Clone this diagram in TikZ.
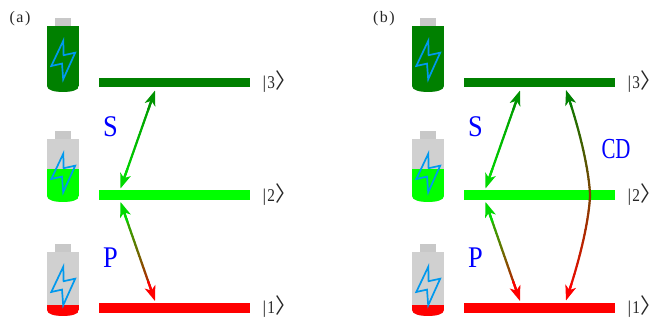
\documentclass[tikz,border=0pt]{standalone}
\usepackage{fontspec}
\setmainfont{Liberation Serif}
\newfontfamily\cjkf{Noto Sans CJK SC}
\usetikzlibrary{calc,arrows.meta}
\definecolor{lvlthree}{RGB}{0,128,0}
\definecolor{lvltwo}{RGB}{0,255,0}
\definecolor{lvlone}{RGB}{255,0,0}
\definecolor{batgray}{RGB}{208,208,208}
\definecolor{capgray}{RGB}{200,200,200}
\definecolor{boltblue}{RGB}{0,153,238}
\definecolor{labelblue}{RGB}{0,0,255}
\tikzset{
  levelbar/.style={draw=none,inner sep=0pt,minimum width=151pt,minimum height=9.6pt},
  ketlabel/.style={font=\fontsize{18}{18}\selectfont,text=black!85,inner sep=0pt,anchor=west},
  panellabel/.style={font=\fontsize{16}{16}\selectfont,text=black!85,inner sep=0pt},
  couplabel/.style={text=labelblue,inner sep=0pt},
  gradseg/.style={line width=2.2pt,line cap=round},
  headtip/.style={-{Stealth[length=15pt,width=11pt,inset=4pt]},line width=2.2pt},
  boltline/.style={draw=boltblue,line width=1.7pt,line join=miter}
}
\newcommand{\gradarrow}[4]{%
  \foreach \i in {5,...,55}{%
    \pgfmathsetmacro\sa{\i/60}\pgfmathsetmacro\sb{(\i+1)/60}\pgfmathsetmacro\pc{100*\sa}%
    \draw[gradseg,draw={#4!\pc!#3}] ($(#1)!\sa!(#2)$) -- ($(#1)!\sb!(#2)$);
  }
  \draw[headtip,draw=#3,fill=#3] ($(#1)!0.2!(#2)$) -- (#1);
  \draw[headtip,draw=#4,fill=#4] ($(#2)!0.2!(#1)$) -- (#2);
}
\newcommand{\bulgeof}[1]{24*(1-abs(2*#1-1)^1.5)}
\newcommand{\gradcurve}[4]{%
  \foreach \i in {5,...,75}{%
    \pgfmathsetmacro\sa{\i/80}\pgfmathsetmacro\sb{(\i+1)/80}\pgfmathsetmacro\pc{100*\sa}%
    \pgfmathsetmacro\ba{\bulgeof{\sa}}\pgfmathsetmacro\bb{\bulgeof{\sb}}%
    \draw[gradseg,draw={#4!\pc!#3}] ($(#1)!\sa!(#2)+(\ba,0)$) -- ($(#1)!\sb!(#2)+(\bb,0)$);
  }
  \pgfmathsetmacro\ba{\bulgeof{0.08}}%
  \draw[headtip,draw=#3,fill=#3] ($(#1)!0.08!(#2)+(\ba,0)$) -- (#1);
  \draw[headtip,draw=#4,fill=#4] ($(#2)!0.08!(#1)+(\ba,0)$) -- (#2);
}
\newcommand{\battery}[5]{%
  \begin{scope}[shift={(#1,#2)}]
    \fill[capgray] (55,-8) rectangle (71,1);
    \begin{scope}
      \pgfmathsetmacro\h{#3-#2}
      \clip (47,0) -- (79,0) -- (79,\h-6) .. controls (79,\h-1.5) and (70,\h) .. (63,\h)
            .. controls (56,\h) and (47,\h-1.5) .. (47,\h-6) -- cycle;
      \fill[batgray] (47,0) rectangle (79,\h);
      \pgfmathsetmacro\lv{#4-#2}
      \fill[#5] (47,\lv) rectangle (79,\h);
    \end{scope}
    \draw[boltline] (63.3,14.7) -- (51.3,40) -- (62,37.6) -- (63.2,53.3) -- (75.2,26.7) -- (63.6,29.2) -- cycle;
  \end{scope}
}
\newcommand{\ketof}[1]{|\kern1pt\scalebox{0.85}[1]{#1}{\fontsize{21}{21}\selectfont\cjkf\kern0.5pt 〉}}
\newcommand{\levelpanel}[2]{%
  \battery{#1}{26}{92}{26}{lvlthree}
  \battery{#1}{139}{202}{169}{lvltwo}
  \battery{#1}{252}{316}{305}{lvlone}
  \node[levelbar,fill=lvlthree] (#2three) at (#1+174.5,82.5) {};
  \node[levelbar,fill=lvltwo]   (#2two)   at (#1+174.5,195) {};
  \node[levelbar,fill=lvlone]   (#2one)   at (#1+174.5,308) {};
  \node[ketlabel] (#2ketthree) at (#1+262.5,82) {\ketof{3}};
  \node[ketlabel] (#2kettwo)   at (#1+262.5,195) {\ketof{2}};
  \node[ketlabel] (#2ketone)   at (#1+262.5,307) {\ketof{1}};
  \coordinate (#2st) at (#1+155,90.5);
  \coordinate (#2sb) at (#1+120.5,188.5);
  \coordinate (#2pt) at (#1+120.5,202);
  \coordinate (#2pb) at (#1+155,301);
  \gradarrow{#2st}{#2sb}{lvlthree!85!lvltwo}{lvltwo!85!black}
  \gradarrow{#2pt}{#2pb}{lvltwo!85!black}{lvlone}
  \node[couplabel,font=\fontsize{30}{30}\selectfont] (#2slabel) at (#1+110.5,127) {\scalebox{0.88}[1]{S}};
  \node[couplabel,font=\fontsize{30}{30}\selectfont] (#2plabel) at (#1+110.5,258) {\scalebox{0.88}[1]{P}};
}
\begin{document}
\begin{tikzpicture}[x=1pt,y=-1pt]
  \useasboundingbox (0,0) rectangle (667,320);
  \fill[white] (0,0) rectangle (667,320);
  \levelpanel{0}{a}
  \levelpanel{365}{b}
  \node[panellabel] (alabel) at (20,19) {(\kern1.5pt a\kern1.5pt)};
  \node[panellabel] (blabel) at (384,19) {(\kern1.5pt b\kern1.5pt)};
  \coordinate (cdt) at (566,90);
  \coordinate (cdb) at (566,300.5);
  \gradcurve{cdt}{cdb}{lvlthree}{lvlone}
  \node[couplabel,font=\fontsize{29}{29}\selectfont] (cdlabel) at (616,149) {\scalebox{0.72}[1]{CD}};
\end{tikzpicture}
\end{document}
